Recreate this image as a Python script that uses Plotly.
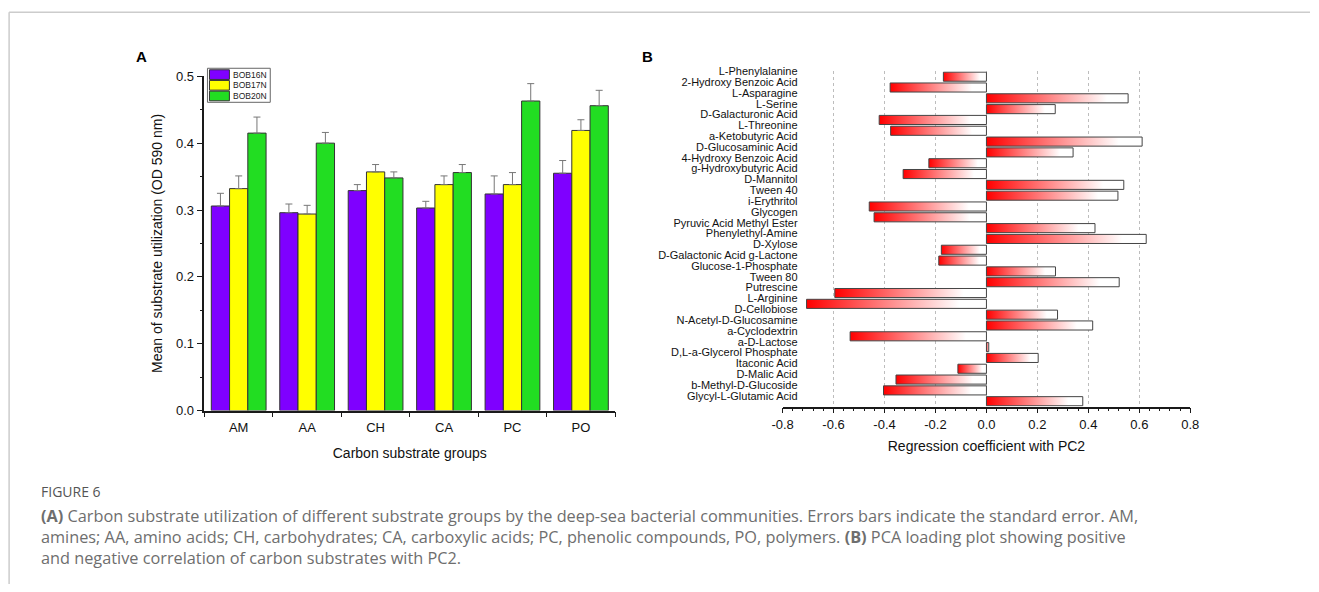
import plotly.graph_objects as go

# ---------------- Panel A data ----------------
groups = ["AM", "AA", "CH", "CA", "PC", "PO"]
bob16 = [0.306, 0.296, 0.329, 0.303, 0.324, 0.355]
bob16_err = [0.019, 0.013, 0.009, 0.010, 0.027, 0.019]
bob17 = [0.332, 0.294, 0.357, 0.338, 0.338, 0.419]
bob17_err = [0.019, 0.013, 0.011, 0.013, 0.018, 0.016]
bob20 = [0.415, 0.400, 0.348, 0.356, 0.463, 0.456]
bob20_err = [0.024, 0.016, 0.009, 0.012, 0.026, 0.023]
series_names = ["BOB16N", "BOB17N", "BOB20N"]

# ---------------- Panel B data ----------------
substrates = [
    "L-Phenylalanine", "2-Hydroxy Benzoic Acid", "L-Asparagine", "L-Serine",
    "D-Galacturonic Acid", "L-Threonine", "a-Ketobutyric Acid", "D-Glucosaminic Acid",
    "4-Hydroxy Benzoic Acid", "g-Hydroxybutyric Acid", "D-Mannitol", "Tween 40",
    "i-Erythritol", "Glycogen", "Pyruvic Acid Methyl Ester", "Phenylethyl-Amine",
    "D-Xylose", "D-Galactonic Acid g-Lactone", "Glucose-1-Phosphate", "Tween 80",
    "Putrescine", "L-Arginine", "D-Cellobiose", "N-Acetyl-D-Glucosamine",
    "a-Cyclodextrin", "a-D-Lactose", "D,L-a-Glycerol Phosphate", "Itaconic Acid",
    "D-Malic Acid", "b-Methyl-D-Glucoside", "Glycyl-L-Glutamic Acid",
]
coef = [
    -0.169, -0.378, 0.556, 0.270,
    -0.421, -0.376, 0.611, 0.340,
    -0.226, -0.327, 0.539, 0.516,
    -0.460, -0.441, 0.426, 0.627,
    -0.177, -0.187, 0.271, 0.521,
    -0.595, -0.706, 0.279, 0.417,
    -0.535, 0.009, 0.203, -0.112,
    -0.355, -0.404, 0.378,
]
x2_tickvals = [-0.8, -0.6, -0.4, -0.2, 0.0, 0.2, 0.4, 0.6, 0.8]
x2_ticktext = ["-0.8", "-0.6", "-0.4", "-0.2", "0.0", "0.2", "0.4", "0.6", "0.8"]

# ---------------- layout helpers ----------------
# Target positions are given in window pixels; the page keeps an 8px body
# margin, so window pixels are converted into figure-paper fractions here.
W, H, OFF = 1319, 592, 8
SX = (W + 2 * OFF) / W
SY = (H + 2 * OFF) / H
def px_x(v):
    return (v * SX - OFF) / W
def px_y(v):
    return 1 - (v * SY - OFF) / H

FONT = "Liberation Sans, Arial, sans-serif"
AXC = "#1a1a1a"

fig = go.Figure()

colors = ["#7f00ff", "#ffff00", "#22dd22"]
for name, vals, err, col in zip(series_names, [bob16, bob17, bob20],
                                [bob16_err, bob17_err, bob20_err], colors):
    fig.add_trace(go.Bar(
        x=groups, y=vals, name=name,
        marker=dict(color=col, line=dict(color="#333333", width=1)),
        error_y=dict(type="data", symmetric=False, array=err,
                     arrayminus=[0] * len(err), color="#777777",
                     thickness=1, width=3.5),
        xaxis="x", yaxis="y", showlegend=False,
    ))

# Panel B: horizontal bars with red->white gradient
half = 0.42
for i, (name, v) in enumerate(zip(substrates, coef)):
    c = i + 0.5
    xs = [0, v, v, 0, 0]
    ys = [c - half, c - half, c + half, c + half, c - half]
    fig.add_trace(go.Scatter(
        x=xs, y=ys, mode="lines", fill="toself",
        fillgradient=dict(type="horizontal",
                          colorscale=[[0, "#ff0000"], [0.85, "#ffffff"], [1, "#ffffff"]]),
        line=dict(color="#444444", width=1),
        name=name, showlegend=False, hoverinfo="text",
        text=f"{name}: {v}",
        xaxis="x2", yaxis="y2",
    ))

xA = [px_x(202), px_x(614)]
yA = [px_y(411), px_y(77)]
xB = [px_x(782), px_x(1191)]
yB = [px_y(407), px_y(72)]
zero_pos = xB[0] + (xB[1] - xB[0]) * (0 - x2_tickvals[0]) / (x2_tickvals[-1] - x2_tickvals[0])

fig.update_layout(
    width=W, height=H,
    margin=dict(l=0, r=0, t=0, b=0),
    paper_bgcolor="white", plot_bgcolor="white",
    font=dict(family=FONT, color="#111111"),
    barmode="group", bargap=0.2, bargroupgap=0,
    showlegend=False,
    xaxis=dict(domain=xA, anchor="y", showline=True, linecolor=AXC, linewidth=1.5,
               ticks="outside", tickson="boundaries", ticklen=5, tickcolor=AXC,
               tickfont=dict(size=13), showgrid=False, ticklabelstandoff=4,
               title=dict(text="Carbon substrate groups", font=dict(size=14), standoff=14)),
    yaxis=dict(domain=yA, anchor="x", range=[0, 0.5], dtick=0.1, tickformat=".1f",
               showline=True, linecolor=AXC, linewidth=1.5, ticks="outside", ticklen=6,
               tickcolor=AXC, tickfont=dict(size=13), showgrid=False, zeroline=False,
               minor=dict(dtick=0.05, ticks="outside", ticklen=3, tickcolor=AXC, showgrid=False),
               title=dict(text="Mean of substrate utilization (OD 590 nm)", font=dict(size=14),
                          standoff=10)),
    xaxis2=dict(domain=xB, anchor="y2", range=[-0.8, 0.8], tickvals=x2_tickvals,
                ticktext=x2_ticktext, showline=True, linecolor=AXC, linewidth=1.5,
                ticks="outside", ticklen=5, tickcolor=AXC, tickfont=dict(size=13),
                showgrid=True, griddash="dot", gridcolor="#bdbdbd", gridwidth=1,
                zeroline=False,
                minor=dict(dtick=0.04, ticks="outside", ticklen=3, tickcolor=AXC, showgrid=False),
                title=dict(text="Regression coefficient with PC2", font=dict(size=14), standoff=10)),
    yaxis2=dict(domain=yB, anchor="free", position=px_x(797), range=[len(substrates), 0],
                tickvals=list(range(len(substrates))), ticktext=substrates,
                ticks="", showline=False, showgrid=False, zeroline=False,
                tickfont=dict(size=11)),
    yaxis3=dict(overlaying="y2", anchor="free", position=zero_pos,
                range=[len(substrates), 0], tickvals=list(range(len(substrates))),
                showticklabels=False, ticks="inside", ticklen=4, tickcolor=AXC,
                showline=True, linecolor=AXC, linewidth=1.5, showgrid=False, zeroline=False),
)

# legend box for panel A (compact, like the original)
lg_x0, lg_x1, lg_y0, lg_y1 = 205, 268, 69, 103
fig.add_shape(type="rect", xref="paper", yref="paper",
              x0=px_x(lg_x0), x1=px_x(lg_x1), y0=px_y(lg_y1), y1=px_y(lg_y0),
              line=dict(color="#666666", width=1), fillcolor="rgba(255,255,255,0)")
row_h = (lg_y1 - lg_y0 - 2) / len(series_names)
for k, (name, col) in enumerate(zip(series_names, colors)):
    top = lg_y0 + 1.5 + k * row_h
    fig.add_shape(type="rect", xref="paper", yref="paper",
                  x0=px_x(207), x1=px_x(227), y0=px_y(top + row_h - 1), y1=px_y(top),
                  line=dict(color="#333333", width=1), fillcolor=col)
    fig.add_annotation(text=name, xref="paper", yref="paper", x=px_x(229),
                       y=px_y(top + row_h / 2 - 0.5), xanchor="left", yanchor="middle",
                       showarrow=False, font=dict(size=8.5, family=FONT, color="#222"))

# frame lines of the page
fig.add_shape(type="line", xref="paper", yref="paper", x0=px_x(6), x1=1, y0=px_y(13), y1=px_y(13),
              line=dict(color="#cccccc", width=1.5))
fig.add_shape(type="line", xref="paper", yref="paper", x0=px_x(6), x1=px_x(6), y0=px_y(13), y1=0,
              line=dict(color="#cccccc", width=1.5))

# panel letters
fig.add_annotation(text="<b>A</b>", xref="paper", yref="paper", x=px_x(139), y=px_y(57),
                   xanchor="center", yanchor="middle",
                   showarrow=False, font=dict(size=15, family=FONT, color="#000"))
fig.add_annotation(text="<b>B</b>", xref="paper", yref="paper", x=px_x(646), y=px_y(57),
                   xanchor="center", yanchor="middle",
                   showarrow=False, font=dict(size=15, family=FONT, color="#000"))

# caption
CAP = "Open Sans, Lato, sans-serif"
fig.add_annotation(text="FIGURE 6", xref="paper", yref="paper", x=px_x(36), y=px_y(492),
                   xanchor="left", yanchor="middle", showarrow=False,
                   font=dict(size=14, family=CAP, color="#555555"))
caption_lines = [
    "<b>(A)</b> Carbon substrate utilization of different substrate groups by the deep-sea bacterial communities. Errors bars indicate the standard error. AM,",
    "amines; AA, amino acids; CH, carbohydrates; CA, carboxylic acids; PC, phenolic compounds, PO, polymers. <b>(B)</b> PCA loading plot showing positive",
    "and negative correlation of carbon substrates with PC2.",
]
fig.add_annotation(text="<br>".join(caption_lines), xref="paper", yref="paper",
                   x=px_x(36), y=px_y(537), xanchor="left", yanchor="middle", align="left",
                   showarrow=False, font=dict(size=16.3, family=CAP, color="#6e6e6e"))

fig.write_html("out.html")
